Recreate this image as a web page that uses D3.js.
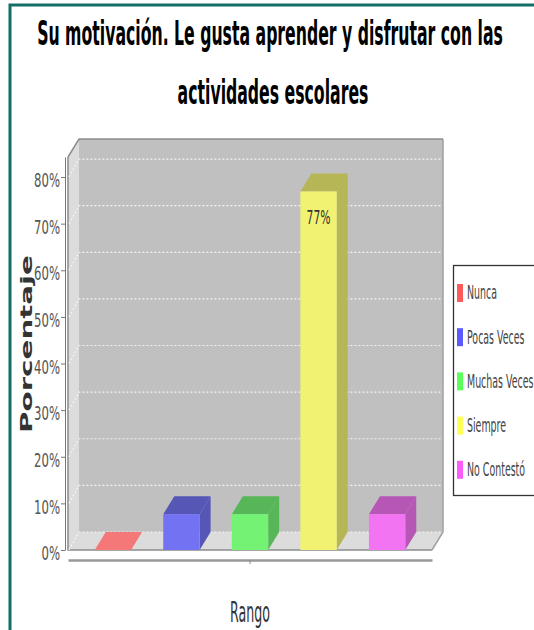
<!DOCTYPE html>
<html><head><meta charset="utf-8">
<script src="https://cdn.jsdelivr.net/npm/d3@7"></script>
<style>html,body{margin:0;padding:0;background:#fff;}svg{display:block;}</style>
</head><body>
<script>
// ---- data ----
const categories = ["Nunca", "Pocas Veces", "Muchas Veces", "Siempre", "No Contestó"];
const values = [0, 7.69, 7.69, 76.92, 7.69];
const valueLabels = ["", "", "", "77%", ""];
const yTicks = [0, 10, 20, 30, 40, 50, 60, 70, 80];
const colors = ["#f47878", "#7272f2", "#74f274", "#f2f272", "#f274f2"];
const legendColors = ["#ff5a5a", "#5a5aff", "#5aff5a", "#ffff5a", "#ff5aff"];
const titleLines = ["Su motivación. Le gusta aprender y disfrutar con las", "actividades escolares"];
const yTitle = "Porcentaje";
const xTitle = "Rango";
const groupKeys = [""];

const W = 534, H = 630;
const svg = d3.select("body").append("svg").attr("width", W).attr("height", H);
const FONT = "DejaVu Sans";

// frame
svg.append("path").attr("d", `M10,${H+5} L10,5 L${W+5},5`).attr("fill", "none")
  .attr("stroke", "#136e69").attr("stroke-width", 3);

// geometry
const DX = 11, DY = 18;
const x0 = 68, x1 = 432, yBase = 550;
const y = d3.scaleLinear().domain([0, 84.3]).range([yBase, 157]);
const xg = d3.scaleBand().domain(groupKeys).range([x0, x1]);
const x = d3.scaleBand().domain(categories).range([x0, x1]).paddingInner(0.47).paddingOuter(0.39);

function fitText(sel, target) {
  const w = sel.node().getComputedTextLength();
  return target / w;
}
function place(sel, px, py, sx, sy) {
  sel.attr("x", 0).attr("y", 0).attr("transform", `translate(${px},${py}) scale(${sx},${sy||1})`);
}

// title
const t1 = svg.append("text").text(titleLines[0]).attr("font-family", FONT).attr("font-weight", "bold")
  .attr("font-size", 34).attr("text-anchor", "middle").attr("fill", "#000");
const tsx = fitText(t1, 466);
place(t1, 270, 45, tsx);
const t2 = svg.append("text").text(titleLines[1]).attr("font-family", FONT).attr("font-weight", "bold")
  .attr("font-size", 34).attr("text-anchor", "middle").attr("fill", "#000");
place(t2, 273, 104, tsx);

// walls
const yTop = y.range()[1];
svg.append("polygon").attr("points", [[x0+DX, yTop-DY], [x1+DX, yTop-DY], [x1+DX, yBase-DY], [x0+DX, yBase-DY]].join(" "))
  .attr("fill", "#c0c0c0");
svg.append("polygon").attr("points", [[x0, yTop], [x0+DX, yTop-DY], [x0+DX, yBase-DY], [x0, yBase]].join(" "))
  .attr("fill", "#dcdcdc");
svg.append("polygon").attr("points", [[x0, yBase], [x1, yBase], [x1+DX, yBase-DY], [x0+DX, yBase-DY]].join(" "))
  .attr("fill", "#dcdcdc");
svg.append("path").attr("d", `M${x0},${yTop} L${x0+DX},${yTop-DY} L${x1+DX},${yTop-DY}`)
  .attr("fill", "none").attr("stroke", "#8c8c8c").attr("stroke-width", 1.5);
svg.append("path").attr("d", `M${x1+DX},${yTop-DY} L${x1+DX},${yBase-DY} L${x1},${yBase}`)
  .attr("fill", "none").attr("stroke", "#a0a0a0").attr("stroke-width", 1.5);
svg.append("path").attr("d", `M${x0},${yTop} L${x0},${yBase} L${x1},${yBase}`)
  .attr("fill", "none").attr("stroke", "#8c8c8c").attr("stroke-width", 1.5);

// gridlines
const grid = svg.append("g");
yTicks.forEach(t => {
  const yf = y(t);
  grid.append("path").attr("d", `M${x0+1},${yf} L${x0+DX},${yf-DY} L${x1+DX-1},${yf-DY}`)
    .attr("fill", "none").attr("stroke", "#f4f4f4").attr("stroke-width", 1.2).attr("stroke-dasharray", "2,2");
});

// bars
const bars = svg.append("g");
categories.forEach((c, i) => {
  const bx = x(c), bw = x.bandwidth(), v = values[i];
  const yt = y(v);
  const col = d3.color(colors[i]);
  const dark = col.darker(0.8).formatHex();
  const g = bars.append("g");
  g.append("polygon").attr("points", [[bx+bw, yt], [bx+bw+DX, yt-DY], [bx+bw+DX, yBase-DY], [bx+bw, yBase]].join(" "))
    .attr("fill", dark);
  g.append("polygon").attr("points", [[bx, yt], [bx+DX, yt-DY], [bx+bw+DX, yt-DY], [bx+bw, yt]].join(" "))
    .attr("fill", v === 0 ? colors[i] : dark);
  g.append("rect").attr("x", bx).attr("y", yt).attr("width", bw).attr("height", yBase - yt).attr("fill", colors[i]);
  if (valueLabels[i]) {
    const lt = g.append("text").text(valueLabels[i]).attr("font-family", FONT).attr("font-size", 19)
      .attr("text-anchor", "middle").attr("fill", "#333");
    const s = fitText(lt, 24);
    place(lt, bx + bw/2, yt + 33, s);
  }
});

// y axis
const ya = svg.append("g").attr("transform", "translate(65,0)")
  .call(d3.axisLeft(y).tickValues(yTicks).tickFormat(d => d + "%").tickSize(4).tickSizeOuter(0));
ya.select(".domain").attr("stroke", "#777");
ya.selectAll(".tick line").attr("stroke", "#777");
const tickTexts = ya.selectAll(".tick text").attr("font-family", FONT).attr("font-size", 19).attr("fill", "#555")
  .attr("text-anchor", "end").attr("dy", null).attr("dominant-baseline", "central").attr("x", 0);
const tickSx = 26 / tickTexts.nodes()[8].getComputedTextLength();
tickTexts.attr("transform", `translate(-5,3) scale(${tickSx},1)`);

// x axis (single group)
const xa = svg.append("g").attr("transform", "translate(0,560)")
  .call(d3.axisBottom(xg).tickFormat(() => "").tickSize(4).tickSizeOuter(0));
xa.select(".domain").attr("stroke", "#999").attr("stroke-width", 2.5);
xa.selectAll(".tick line").attr("stroke", "#888");

// axis titles
svg.append("text").text(yTitle).attr("font-family", FONT).attr("font-weight", "bold")
  .attr("font-size", 20).attr("text-anchor", "middle").attr("fill", "#333")
  .attr("textLength", 178).attr("lengthAdjust", "spacingAndGlyphs")
  .attr("transform", "translate(32,344) rotate(-90) scale(1,0.75)");
const xt = svg.append("text").text(xTitle).attr("font-family", FONT).attr("font-size", 29)
  .attr("text-anchor", "middle").attr("fill", "#333");
place(xt, 250, 622, fitText(xt, 40));

// legend
const lg = svg.append("g");
lg.append("rect").attr("x", 453.5).attr("y", 265.5).attr("width", 100).attr("height", 230)
  .attr("fill", "#fff").attr("stroke", "#333").attr("stroke-width", 1.3);
let legSx = null;
categories.forEach((c, i) => {
  const cy = 293 + i * 44.2;
  lg.append("rect").attr("x", 457).attr("y", cy - 9).attr("width", 6).attr("height", 18).attr("fill", legendColors[i]);
  const t = lg.append("text").text(c).attr("font-family", FONT).attr("font-size", 19).attr("fill", "#444")
    .attr("dominant-baseline", "central");
  if (legSx === null) legSx = 30 / t.node().getComputedTextLength();
  place(t, 467, cy, legSx);
});
</script>
</body></html>
